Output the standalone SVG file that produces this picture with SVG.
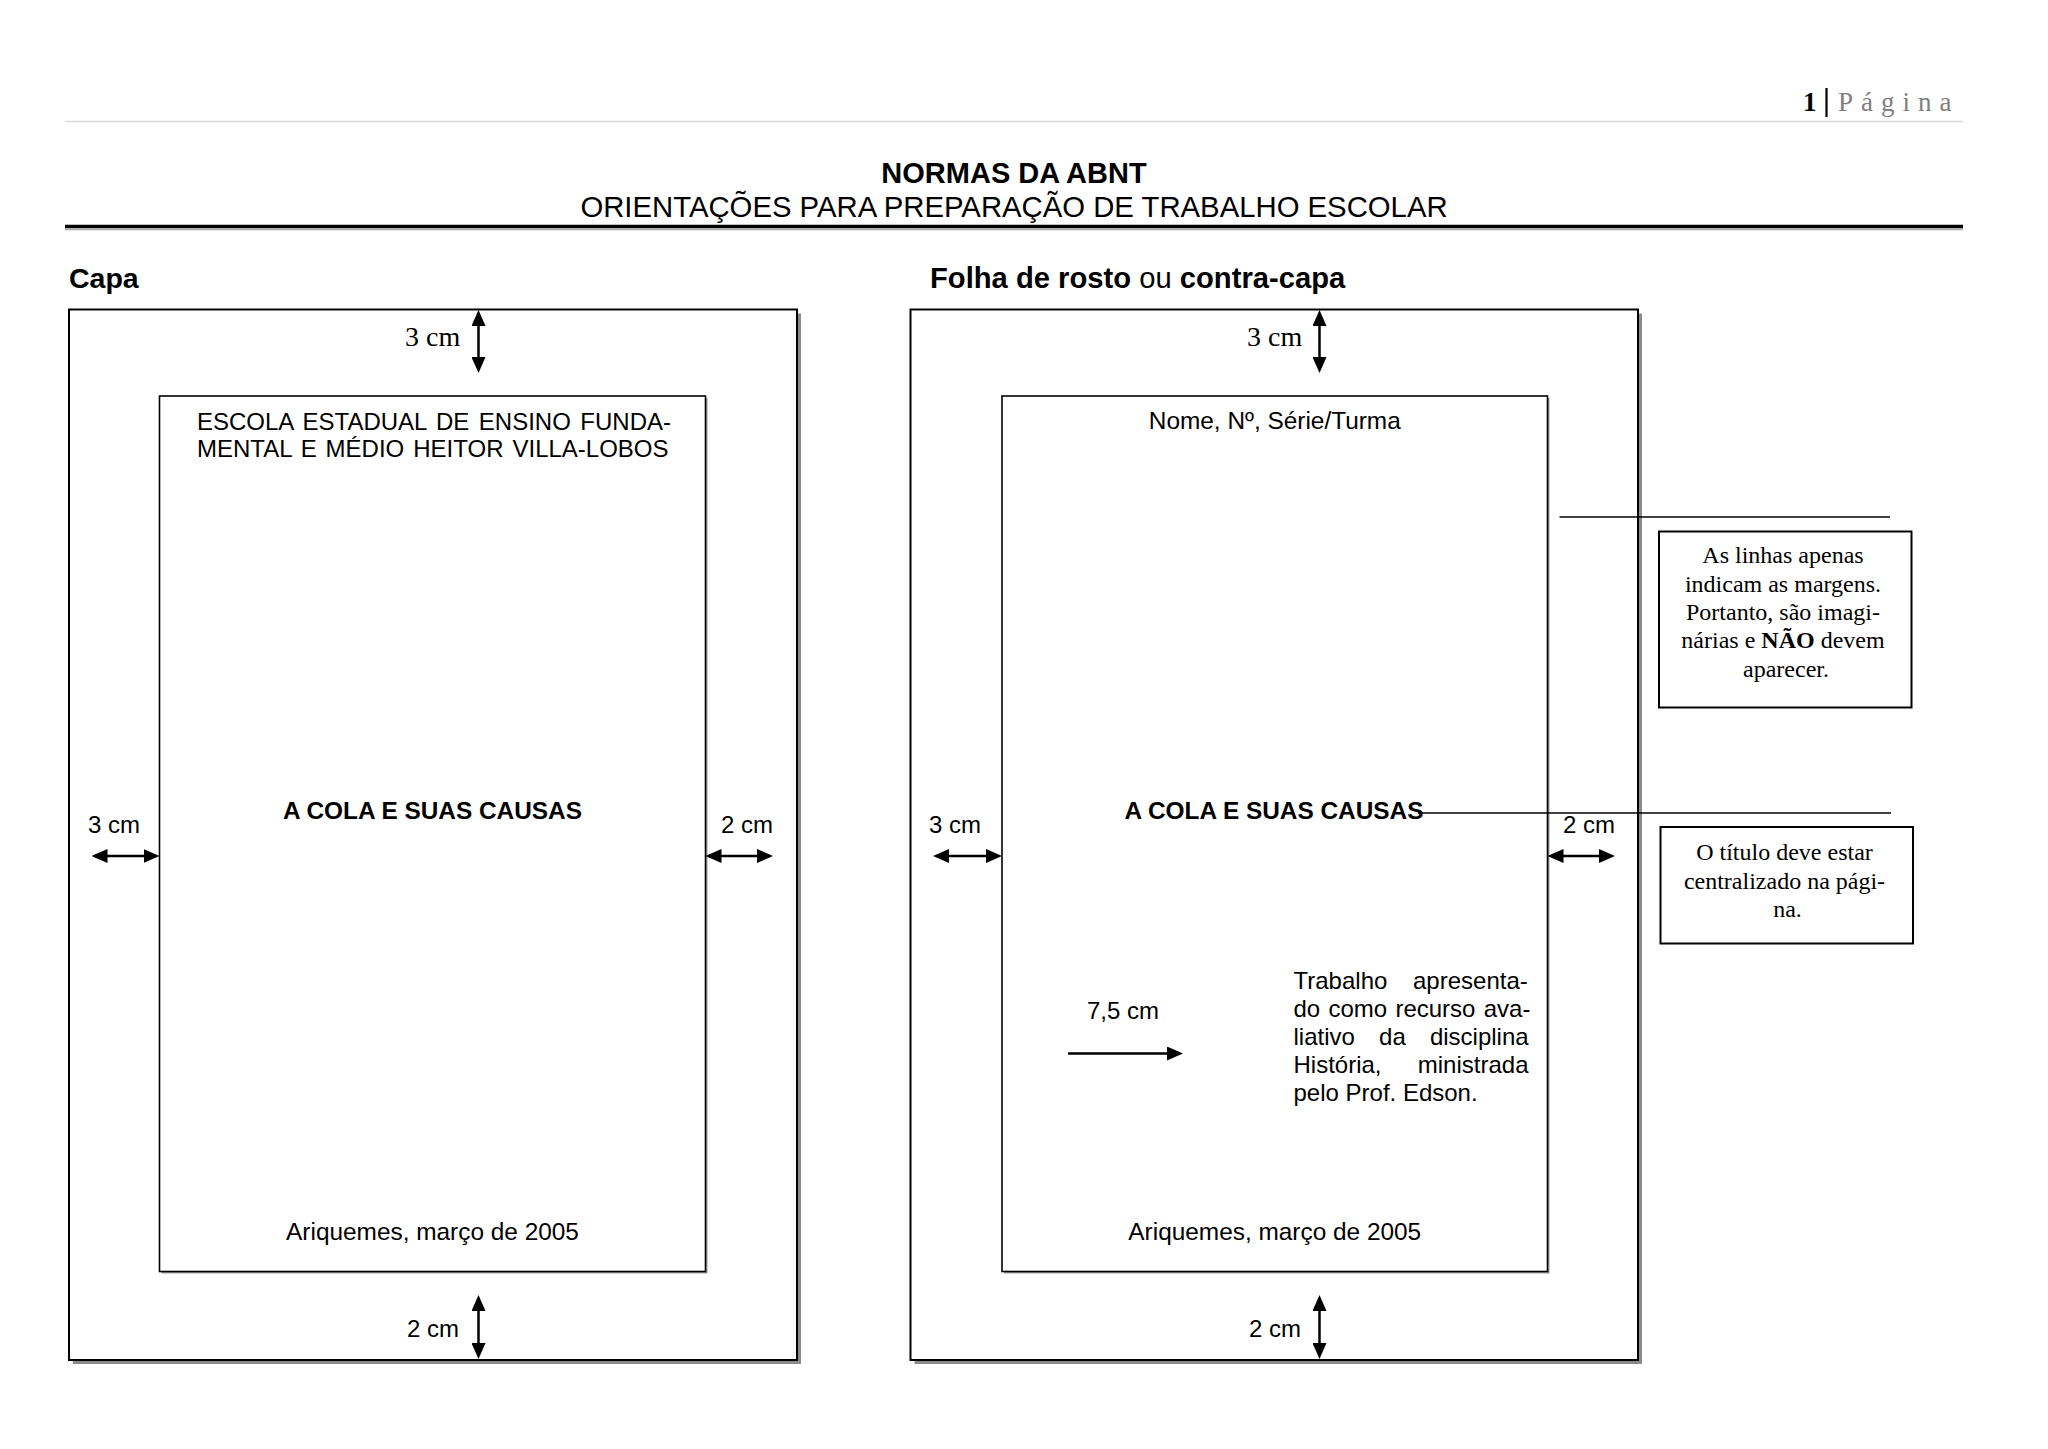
<svg xmlns="http://www.w3.org/2000/svg" width="2048" height="1449" viewBox="0 0 2048 1449">
<style>
 .s{font-family:"Liberation Sans",Arial,sans-serif;fill:#000}
 .t{font-family:"Liberation Serif","Times New Roman",serif;fill:#000}
 .f24{font-size:24px}
 .f24b{font-size:24.4px}
 .b{font-weight:bold}
 .mid{text-anchor:middle}
 .page{fill:#fff;stroke:#000;stroke-width:2}
 .shadow{fill:#8a8a8a}
 .ishadow{fill:#9a9a9a}
 .margin{fill:#fff;stroke:#000;stroke-width:1.6}
 .note{fill:#fff;stroke:#000;stroke-width:2}
 .dim{stroke:#000;stroke-width:2.5;fill:none}
 .guide{stroke:#000;stroke-width:1.6}
</style>
<defs>
 <marker id="ah" markerUnits="userSpaceOnUse" markerWidth="16" markerHeight="14" viewBox="0 0 16 14" refX="12" refY="7" orient="auto-start-reverse">
  <path d="M0,0 L16,7 L0,14 z" fill="#000"/>
 </marker>
</defs>
<rect width="2048" height="1449" fill="#fff"/>

<g id="header">
 <text x="1803" y="111" class="t b" font-size="27">1</text>
 <line x1="1826.5" y1="88" x2="1826.5" y2="117" stroke="#000" stroke-width="2.2"/>
 <text x="1838" y="111" class="t" font-size="27" letter-spacing="8" style="fill:#7f7f7f">Página</text>
 <line x1="65" y1="121.5" x2="1963" y2="121.5" stroke="#d9d9d9" stroke-width="1.5"/>
 <text x="1014" y="183" class="s b mid" font-size="29">NORMAS DA ABNT</text>
 <text x="1014" y="217" class="s mid" font-size="29.3">ORIENTAÇÕES PARA PREPARAÇÃO DE TRABALHO ESCOLAR</text>
 <line x1="65" y1="229.5" x2="1963" y2="229.5" stroke="#aaa" stroke-width="1.5"/>
 <line x1="65" y1="226.5" x2="1963" y2="226.5" stroke="#000" stroke-width="3.5"/>
 <text x="69" y="288" class="s b" font-size="28.5">Capa</text>
 <text x="930" y="288" class="s" font-size="29.2"><tspan font-weight="bold">Folha de rosto</tspan> ou <tspan font-weight="bold">contra-capa</tspan></text>
</g>

<g id="capa">
 <rect class="shadow" x="73" y="313.5" width="728" height="1050.5"/>
 <rect class="page" x="69" y="309.5" width="728" height="1050.5"/>
 <rect class="ishadow" x="161.5" y="398" width="546" height="875.5"/>
 <rect class="margin" x="159.5" y="396" width="546" height="875.5"/>
 <text x="405" y="346" class="t" font-size="28">3 cm</text>
 <text x="197" y="430" class="s f24" word-spacing="2.8">ESCOLA ESTADUAL DE ENSINO FUNDA-</text>
 <text x="197" y="457" class="s f24" word-spacing="2.3">MENTAL E MÉDIO HEITOR VILLA-LOBOS</text>
 <text x="432.5" y="819" class="s b f24b mid">A COLA E SUAS CAUSAS</text>
 <text x="88" y="833" class="s f24">3 cm</text>
 <text x="721" y="833" class="s f24">2 cm</text>
 <text x="432.5" y="1240" class="s f24b mid">Ariquemes, março de 2005</text>
 <text x="407" y="1337" class="s f24">2 cm</text>
</g>

<g id="folha-de-rosto">
 <rect class="shadow" x="914.5" y="313.5" width="727.5" height="1050.5"/>
 <rect class="page" x="910.5" y="309.5" width="727.5" height="1050.5"/>
 <rect class="ishadow" x="1004" y="398" width="545.5" height="875.5"/>
 <rect class="margin" x="1002" y="396" width="545.5" height="875.5"/>
 <text x="1247" y="346" class="t" font-size="28">3 cm</text>
 <text x="1274.75" y="428.5" class="s f24b mid">Nome, Nº, Série/Turma</text>
 <text x="1274" y="819" class="s b f24b mid">A COLA E SUAS CAUSAS</text>
 <text x="929" y="833" class="s f24">3 cm</text>
 <text x="1563" y="833" class="s f24">2 cm</text>
 <text x="1087" y="1019" class="s f24">7,5 cm</text>
 <text x="1293.5" y="989" class="s f24" word-spacing="19">Trabalho apresenta-</text>
 <text x="1293.5" y="1017" class="s f24" word-spacing="1.6">do como recurso ava-</text>
 <text x="1293.5" y="1045" class="s f24" word-spacing="17.5">liativo da disciplina</text>
 <text x="1293.5" y="1073" class="s f24" word-spacing="29.6">História, ministrada</text>
 <text x="1293.5" y="1101" class="s f24">pelo Prof. Edson.</text>
 <text x="1274.75" y="1240" class="s f24b mid">Ariquemes, março de 2005</text>
 <text x="1249" y="1337" class="s f24">2 cm</text>
</g>

<g id="nota-margens">
 <rect class="note" x="1659" y="531.5" width="252.5" height="176"/>
 <text class="t f24 mid">
  <tspan x="1786" y="563">As linhas apenas</tspan>
  <tspan x="1786" y="591.5">indicam as margens.</tspan>
  <tspan x="1786" y="619.5">Portanto, são imagi-</tspan>
  <tspan x="1786" y="648">nárias e <tspan font-weight="bold">NÃO</tspan> devem</tspan>
  <tspan x="1786" y="676.5">aparecer.</tspan>
 </text>
</g>

<g id="nota-titulo">
 <rect class="note" x="1660.5" y="827" width="252.5" height="116.5"/>
 <text class="t f24 mid">
  <tspan x="1787.5" y="860">O título deve estar</tspan>
  <tspan x="1787.5" y="888.5">centralizado na pági-</tspan>
  <tspan x="1787.5" y="917">na.</tspan>
 </text>
</g>

<g id="connectors">
 <line class="dim" x1="478.5" y1="314" x2="478.5" y2="369" marker-start="url(#ah)" marker-end="url(#ah)"/>
 <line class="dim" x1="478.5" y1="1299" x2="478.5" y2="1355" marker-start="url(#ah)" marker-end="url(#ah)"/>
 <line class="dim" x1="95.5" y1="856" x2="155.5" y2="856" marker-start="url(#ah)" marker-end="url(#ah)"/>
 <line class="dim" x1="709.5" y1="856" x2="769" y2="856" marker-start="url(#ah)" marker-end="url(#ah)"/>
 <line class="dim" x1="1319.5" y1="314" x2="1319.5" y2="369" marker-start="url(#ah)" marker-end="url(#ah)"/>
 <line class="dim" x1="1319.5" y1="1299" x2="1319.5" y2="1355" marker-start="url(#ah)" marker-end="url(#ah)"/>
 <line class="dim" x1="937" y1="856" x2="998" y2="856" marker-start="url(#ah)" marker-end="url(#ah)"/>
 <line class="dim" x1="1551.5" y1="856" x2="1611" y2="856" marker-start="url(#ah)" marker-end="url(#ah)"/>
 <line class="dim" x1="1068" y1="1053.5" x2="1179" y2="1053.5" marker-end="url(#ah)"/>
 <line class="guide" x1="1559.5" y1="517" x2="1890" y2="517"/>
 <line class="guide" x1="1418" y1="813" x2="1891" y2="813"/>
</g>
</svg>
